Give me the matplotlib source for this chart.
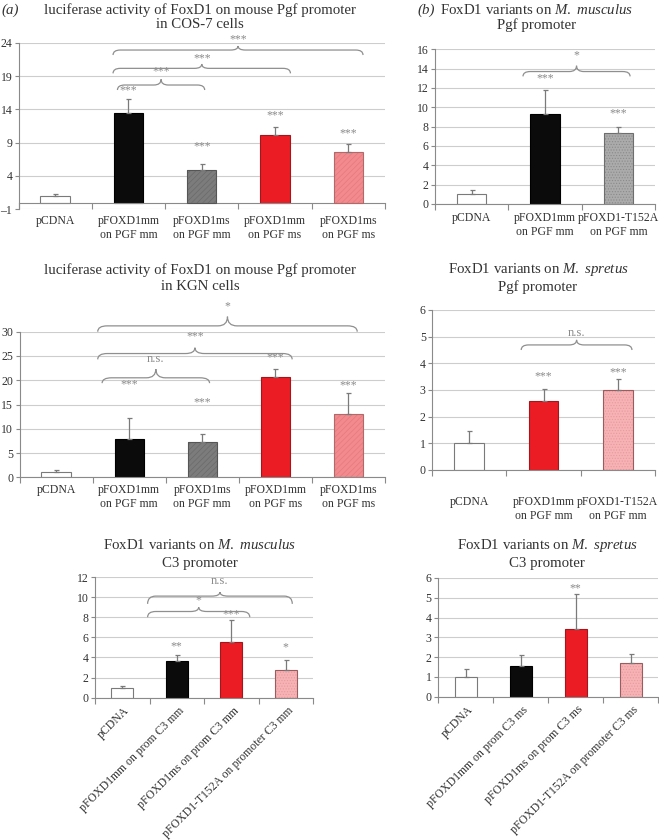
import numpy as np
import matplotlib
matplotlib.use('Agg')
from matplotlib import pyplot as plt
from matplotlib.path import Path
from matplotlib.patches import PathPatch

plt.rcParams['font.family'] = ['Liberation Serif', 'DejaVu Serif']
plt.rcParams['mathtext.fontset'] = 'custom'
plt.rcParams['mathtext.it'] = 'Liberation Serif:italic'
plt.rcParams['mathtext.rm'] = 'Liberation Serif'
plt.rcParams['hatch.linewidth'] = 0.5

# ---- data ----
labels_pgf5 = ['pCDNA', 'pFOXD1mm\non PGF mm', 'pFOXD1ms\non PGF mm',
               'pFOXD1mm\non PGF ms', 'pFOXD1ms\non PGF ms']
cos7_mean = [1.05, 13.4, 4.85, 10.15, 7.55]
cos7_err = [0.25, 2.1, 0.95, 1.2, 1.2]
cos7_sig = ['', '***', '***', '***', '***']
cos7_pairs = [(1, 2, '***'), (1, 3, '***'), (1, 4, '***')]

kgn_mean = [1.1, 7.8, 7.25, 20.6, 13.1]
kgn_err = [0.4, 4.4, 1.7, 1.8, 4.2]
kgn_sig = ['', '***', '***', '***', '***']
kgn_pairs = [(1, 2, 'n.s.'), (1, 3, '***'), (1, 4, '*')]

labels_pgf3 = ['pCDNA', 'pFOXD1mm\non PGF mm', 'pFOXD1-T152A\non PGF mm']
mm_pgf_mean = [1.0, 9.35, 7.3]
mm_pgf_err = [0.4, 2.45, 0.7]
mm_pgf_sig = ['', '***', '***']
mm_pgf_pairs = [(1, 2, '*')]

ms_pgf_mean = [1.0, 2.58, 3.0]
ms_pgf_err = [0.46, 0.47, 0.4]
ms_pgf_sig = ['', '***', '***']
ms_pgf_pairs = [(1, 2, 'n.s.')]

labels_c3_mm = ['pCDNA', 'pFOXD1mm on prom C3 mm', 'pFOXD1ms on prom C3 mm',
                'pFOXD1-T152A on promoter C3 mm']
mm_c3_mean = [1.0, 3.6, 5.5, 2.75]
mm_c3_err = [0.15, 0.6, 2.25, 1.0]
mm_c3_sig = ['', '**', '***', '*']
mm_c3_pairs = [(1, 2, '*'), (1, 3, 'n.s.')]

labels_c3_ms = ['pCDNA', 'pFOXD1mm on prom C3 ms', 'pFOXD1ms on prom C3 ms',
                'pFOXD1-T152A on promoter C3 ms']
ms_c3_mean = [1.02, 1.57, 3.41, 1.68]
ms_c3_err = [0.36, 0.53, 1.8, 0.46]
ms_c3_sig = ['', '', '**', '']

# ---- styles ----
STYLES = {
    'empty': dict(face='white', hatchc=None, edge='#7a7a7a', hatch=None),
    'black': dict(face='#0b0b0b', hatchc=None, edge='#000000', hatch=None),
    'grayh': dict(face='#7c7c7c', hatchc='#6a6a6a', edge='#555555', hatch='//////'),
    'red': dict(face='#ec1c24', hatchc=None, edge='#a3161b', hatch=None),
    'pinkh': dict(face='#f38a8e', hatchc='#e57a7e', edge='#b06a6c', hatch='//////'),
    'grayd': dict(face='#ababab', hatchc='#8a8a8a', edge='#6e6e6e', hatch='......'),
    'pinkd': dict(face='#f6b2b4', hatchc='#e99a9d', edge='#9a5c5e', hatch='......'),
}
TXT = '#333333'
SIG = '#8a8a8a'
W, H = 659, 840

fig = plt.figure(figsize=(W / 100, H / 100), dpi=100)


def make_ax(l, t, r, b):
    return fig.add_axes([l / W, 1 - b / H, (r - l) / W, (b - t) / H])


def brace(ax, x1, x2, ye, yl, yp, yt, text, dx):
    xm = (x1 + x2) / 2
    verts = [(x1, ye), (x1, yl), (x1 + dx, yl), (xm - dx, yl), (xm, yl), (xm, yp),
             (xm, yl), (xm + dx, yl), (x2 - dx, yl), (x2, yl), (x2, ye)]
    codes = [Path.MOVETO, Path.CURVE3, Path.CURVE3, Path.LINETO, Path.CURVE3, Path.CURVE3,
             Path.CURVE3, Path.CURVE3, Path.LINETO, Path.CURVE3, Path.CURVE3]
    ax.add_patch(PathPatch(Path(verts, codes), fill=False, edgecolor='#8f8f8f',
                           lw=0.9, clip_on=False, zorder=4))
    ax.text(xm, yt, text, ha='center', va='center', color=SIG,
            fontsize=9 if text == 'n.s.' else 8.5, clip_on=False)


def panel(ax, means, errs, styles, sig, sig_y, ylim, yticks, labels, pad, rotated=False):
    n = len(means)
    x = np.arange(n)
    ax.set_xlim(-0.5, n - 0.5)
    ax.set_ylim(*ylim)
    ax.set_yticks(yticks)
    ax.set_yticklabels([str(v).replace('-', '\u2013') for v in yticks])
    for s in ['top', 'right']:
        ax.spines[s].set_visible(False)
    ax.spines['left'].set_color('#8a8a8a')
    ax.spines['left'].set_linewidth(0.8)
    ax.spines['bottom'].set_position(('data', 0))
    ax.spines['bottom'].set_color('#8a8a8a')
    ax.spines['bottom'].set_linewidth(0.8)
    ax.yaxis.grid(True, color='#cdcdcd', lw=0.8)
    ax.set_axisbelow(True)
    ax.tick_params(axis='y', length=3, width=0.8, color='#8a8a8a', labelcolor=TXT,
                   labelsize=8.5, pad=1.5)
    ax.set_xticks(x)
    ax.set_xticks(np.arange(n + 1) - 0.5, minor=True)
    ax.tick_params(axis='x', which='minor', length=4, width=0.8, color='#8a8a8a')
    ax.tick_params(axis='x', which='major', length=0, labelcolor=TXT, labelsize=8.5, pad=pad)
    if rotated:
        ax.set_xticklabels([])
        for i, lab in enumerate(labels):
            ax.annotate(lab, xy=(i, 0), xycoords='data', xytext=(4, -8),
                        textcoords='offset points', rotation=45, ha='right', va='center',
                        rotation_mode='anchor', fontsize=8.5, color=TXT)
    else:
        ax.set_xticklabels(labels)
    for i in range(n):
        st = STYLES[styles[i]]
        if st['hatch']:
            ax.bar(x[i], means[i], 0.4, color=st['face'], edgecolor=st['hatchc'],
                   hatch=st['hatch'], lw=0, zorder=2)
            ax.bar(x[i], means[i], 0.4, fill=False, edgecolor=st['edge'], lw=0.8, zorder=3)
        else:
            ax.bar(x[i], means[i], 0.4, color=st['face'], edgecolor=st['edge'], lw=0.8,
                   zorder=2)
    ax.errorbar(x, means, yerr=[np.zeros(n), errs], fmt='none', ecolor='#7a7a7a',
                elinewidth=0.9, capsize=1.8, capthick=0.9, zorder=3)
    for i in range(n):
        if sig[i]:
            ax.text(x[i], sig_y[i], sig[i], ha='center', va='center', color=SIG, fontsize=8.5)


def title(x, y1, y2, line1, line2, size=10.7):
    fig.text(x / W, 1 - y1 / H, line1, ha='center', va='center', fontsize=size, color=TXT)
    fig.text(x / W, 1 - y2 / H, line2, ha='center', va='center', fontsize=size, color=TXT)


# (a) COS-7
ax = make_ax(18.5, 42.7, 385, 209.3)
panel(ax, cos7_mean, cos7_err, ['empty', 'black', 'grayh', 'red', 'pinkh'], cos7_sig,
      [0, 16.8, 8.4, 13.1, 10.4], (-1, 24), [-1, 4, 9, 14, 19, 24], labels_pgf5, 9)
geo = [(-0.15, 0.04, 16.9, 17.65, 18.5, 19.65),
       (-0.21, 0.21, 19.4, 20.15, 20.8, 21.65),
       (-0.21, 0.2, 22.15, 22.9, 23.5, 24.5)]
for (i, j, lab), (dl, dr, ye, yl, yp, yt) in zip(cos7_pairs, geo):
    brace(ax, i + dl, j + dr, ye, yl, yp, yt, lab, 0.1)
title(200, 10, 25, 'luciferase activity of FoxD1 on mouse Pgf promoter', 'in COS-7 cells')
fig.text(1 / W, 1 - 10 / H, '(a)', ha='left', va='center', fontsize=10.7, style='italic',
         color=TXT)

# KGN
ax = make_ax(19.5, 331.7, 385, 477.3)
panel(ax, kgn_mean, kgn_err, ['empty', 'black', 'grayh', 'red', 'pinkh'], kgn_sig,
      [0, 19.2, 15.5, 24.8, 18.9], (0, 30), [0, 5, 10, 15, 20, 25, 30], labels_pgf5, 5)
geo = [(-0.37, 0.1, 19.4, 20.5, 22.3, 24.3),
       (-0.43, 0.23, 24.3, 25.5, 26.7, 29.1),
       (-0.43, 0.12, 30.0, 31.2, 33.1, 35.2)]
for (i, j, lab), (dl, dr, ye, yl, yp, yt) in zip(kgn_pairs, geo):
    brace(ax, i + dl, j + dr, ye, yl, yp, yt, lab, 0.13)
title(200, 270, 287, 'luciferase activity of FoxD1 on mouse Pgf promoter', 'in KGN cells')

# (b) M. musculus Pgf
ax = make_ax(435, 49.3, 655, 204)
panel(ax, mm_pgf_mean, mm_pgf_err, ['empty', 'black', 'grayd'], mm_pgf_sig,
      [0, 13.0, 9.4], (0, 16), list(range(0, 17, 2)), labels_pgf3, 6)
for i, j, lab in mm_pgf_pairs:
    brace(ax, i - 0.3, j + 0.16, 13.2, 13.7, 14.3, 15.4, lab, 0.1)
title(537, 10, 25, r'FoxD1 variants on $\it{M.\ musculus}$', 'Pgf promoter')
fig.text(417 / W, 1 - 10 / H, '(b)', ha='left', va='center', fontsize=10.7, style='italic',
         color=TXT)

# M. spretus Pgf
ax = make_ax(432, 310, 655, 470)
panel(ax, ms_pgf_mean, ms_pgf_err, ['empty', 'red', 'pinkd'], ms_pgf_sig,
      [0, 3.53, 3.65], (0, 6), list(range(0, 7)), labels_pgf3, 19)
for i, j, lab in ms_pgf_pairs:
    brace(ax, i - 0.3, j + 0.19, 4.5, 4.69, 4.88, 5.12, lab, 0.1)
title(538, 270, 287, r'FoxD1 variants on $\it{M.\ spretus}$', 'Pgf promoter')

# M. musculus C3
ax = make_ax(95, 577, 313, 697.7)
panel(ax, mm_c3_mean, mm_c3_err, ['empty', 'black', 'red', 'pinkd'], mm_c3_sig,
      [0, 5.15, 8.24, 5.0], (0, 12), list(range(0, 13, 2)), labels_c3_mm, 0, rotated=True)
geo = [(-0.535, 0.34, 8.0, 8.57, 9.0, 9.7),
       (-0.535, 0.12, 9.33, 10.1, 10.5, 11.56)]
for (i, j, lab), (dl, dr, ye, yl, yp, yt) in zip(mm_c3_pairs, geo):
    brace(ax, i + dl, j + dr, ye, yl, yp, yt, lab, 0.15)
title(200, 545, 563, r'FoxD1 variants on $\it{M.\ musculus}$', 'C3 promoter')

# M. spretus C3
ax = make_ax(438, 578, 658, 696.7)
panel(ax, ms_c3_mean, ms_c3_err, ['empty', 'black', 'red', 'pinkd'], ms_c3_sig,
      [0, 0, 5.5, 0], (0, 6), list(range(0, 7)), labels_c3_ms, 0, rotated=True)
title(547, 545, 563, r'FoxD1 variants on $\it{M.\ spretus}$', 'C3 promoter')

fig.savefig('out.png', dpi=100)
